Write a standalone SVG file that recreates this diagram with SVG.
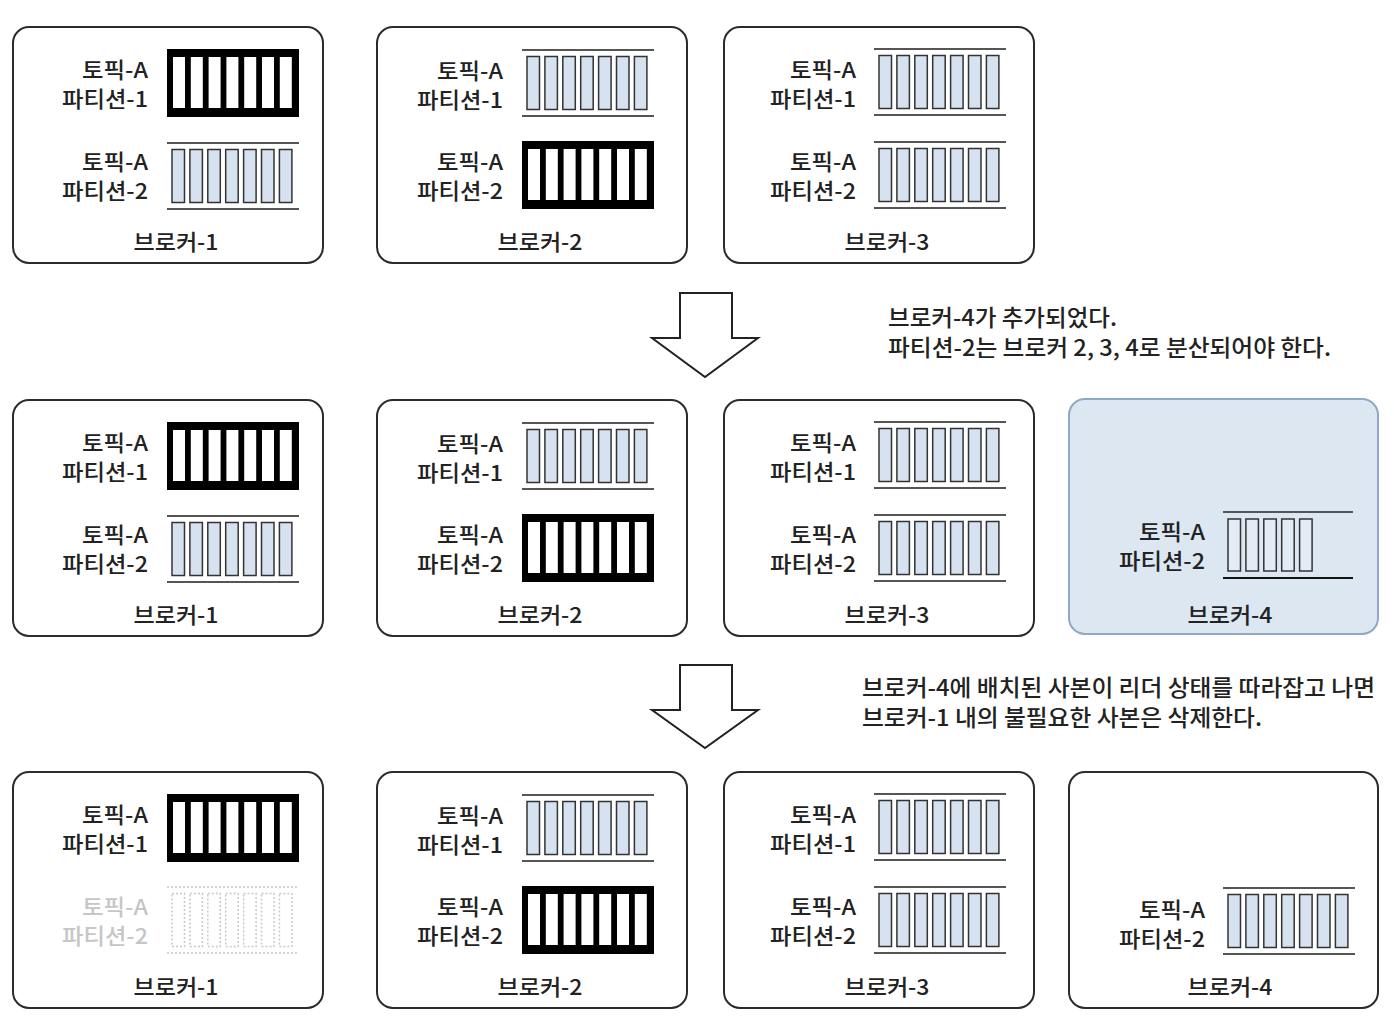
<svg xmlns="http://www.w3.org/2000/svg" xmlns:xlink="http://www.w3.org/1999/xlink" width="1394" height="1030" viewBox="0 0 1394 1030">
<style>
.box{fill:#fff;stroke:#2b2b2b;stroke-width:2}
.box4{fill:#dde7f2;stroke:#8fa8c6;stroke-width:2}
.t{font-family:"Noto Sans CJK KR","Noto Sans",sans-serif;font-size:22px;font-weight:500;fill:#222}
.lbl{text-anchor:end}
.cap{text-anchor:middle}
.note{font-family:"Noto Sans CJK KR","Noto Sans",sans-serif;font-size:22.5px;font-weight:500;fill:#222}
.ghost{fill:#c6c6c6}
.rail{stroke:#555;stroke-width:2}
.slot{fill:#d6e2f0;stroke:#333;stroke-width:1.5}
.slot6{fill:#e3ebf4;stroke:#333;stroke-width:1.5}
.dot{fill:none;stroke:#c8c8c8;stroke-width:1.5;stroke-dasharray:2 2}
.arrow{fill:#fff;stroke:#222;stroke-width:2;stroke-linejoin:miter}
</style>
<defs>
<g id="leader">
<rect x="0" y="0" width="132" height="68" fill="#000"/>
<rect x="6" y="8" width="12" height="51" fill="#fff"/>
<rect x="23.8" y="8" width="12" height="51" fill="#fff"/>
<rect x="41.6" y="8" width="12" height="51" fill="#fff"/>
<rect x="59.4" y="8" width="12" height="51" fill="#fff"/>
<rect x="77.2" y="8" width="12" height="51" fill="#fff"/>
<rect x="95" y="8" width="12" height="51" fill="#fff"/>
<rect x="112.8" y="8" width="12" height="51" fill="#fff"/>
</g>
<g id="follower">
<line class="rail" x1="0" y1="0" x2="132" y2="0"/>
<line class="rail" x1="0" y1="66" x2="132" y2="66"/>
<rect class="slot" x="5" y="6.5" width="12.5" height="53"/>
<rect class="slot" x="22.9" y="6.5" width="12.5" height="53"/>
<rect class="slot" x="40.8" y="6.5" width="12.5" height="53"/>
<rect class="slot" x="58.7" y="6.5" width="12.5" height="53"/>
<rect class="slot" x="76.6" y="6.5" width="12.5" height="53"/>
<rect class="slot" x="94.5" y="6.5" width="12.5" height="53"/>
<rect class="slot" x="112.4" y="6.5" width="12.5" height="53"/>
</g>
<g id="partial">
<line class="rail" x1="0" y1="0" x2="130" y2="0"/>
<line x1="0" y1="66" x2="130" y2="66" stroke="#111" stroke-width="2"/>
<rect class="slot6" x="5" y="7" width="12.5" height="52"/>
<rect class="slot6" x="22.9" y="7" width="12.5" height="52"/>
<rect class="slot6" x="40.8" y="7" width="12.5" height="52"/>
<rect class="slot6" x="58.7" y="7" width="12.5" height="52"/>
<rect class="slot6" x="76.6" y="7" width="12.5" height="52"/>
</g>
<g id="deleted">
<line class="dot" x1="0" y1="0" x2="132" y2="0"/>
<line class="dot" x1="0" y1="66" x2="132" y2="66"/>
<rect class="dot" x="5" y="6.5" width="12.5" height="53"/>
<rect class="dot" x="22.9" y="6.5" width="12.5" height="53"/>
<rect class="dot" x="40.8" y="6.5" width="12.5" height="53"/>
<rect class="dot" x="58.7" y="6.5" width="12.5" height="53"/>
<rect class="dot" x="76.6" y="6.5" width="12.5" height="53"/>
<rect class="dot" x="94.5" y="6.5" width="12.5" height="53"/>
<rect class="dot" x="112.4" y="6.5" width="12.5" height="53"/>
</g>
</defs>

<!-- Row 1 -->
<g id="r1-broker1" transform="translate(13,27)">
<rect class="box" x="0" y="0" width="310" height="236" rx="16"/>
<text class="t lbl" x="135" y="51" textLength="66" lengthAdjust="spacingAndGlyphs">토픽-A</text>
<text class="t lbl" x="135" y="80" textLength="86" lengthAdjust="spacingAndGlyphs">파티션-1</text>
<use xlink:href="#leader" x="154" y="22"/>
<text class="t lbl" x="135" y="143" textLength="66" lengthAdjust="spacingAndGlyphs">토픽-A</text>
<text class="t lbl" x="135" y="172" textLength="86" lengthAdjust="spacingAndGlyphs">파티션-2</text>
<use xlink:href="#follower" x="154" y="116"/>
<text class="t cap" x="163" y="223" textLength="85" lengthAdjust="spacingAndGlyphs">브로커-1</text>
</g>
<g id="r1-broker2" transform="translate(377,27)">
<rect class="box" x="0" y="0" width="310" height="236" rx="16"/>
<text class="t lbl" x="126" y="52" textLength="66" lengthAdjust="spacingAndGlyphs">토픽-A</text>
<text class="t lbl" x="126" y="81" textLength="86" lengthAdjust="spacingAndGlyphs">파티션-1</text>
<use xlink:href="#follower" x="145" y="23"/>
<text class="t lbl" x="126" y="143" textLength="66" lengthAdjust="spacingAndGlyphs">토픽-A</text>
<text class="t lbl" x="126" y="172" textLength="86" lengthAdjust="spacingAndGlyphs">파티션-2</text>
<use xlink:href="#leader" x="145" y="114"/>
<text class="t cap" x="163" y="223" textLength="85" lengthAdjust="spacingAndGlyphs">브로커-2</text>
</g>
<g id="r1-broker3" transform="translate(724,27)">
<rect class="box" x="0" y="0" width="310" height="236" rx="16"/>
<text class="t lbl" x="132" y="51" textLength="66" lengthAdjust="spacingAndGlyphs">토픽-A</text>
<text class="t lbl" x="132" y="80" textLength="86" lengthAdjust="spacingAndGlyphs">파티션-1</text>
<use xlink:href="#follower" x="150" y="22"/>
<text class="t lbl" x="132" y="143" textLength="66" lengthAdjust="spacingAndGlyphs">토픽-A</text>
<text class="t lbl" x="132" y="172" textLength="86" lengthAdjust="spacingAndGlyphs">파티션-2</text>
<use xlink:href="#follower" x="150" y="115"/>
<text class="t cap" x="163" y="223" textLength="85" lengthAdjust="spacingAndGlyphs">브로커-3</text>
</g>

<!-- Row 2 -->
<g id="r2-broker1" transform="translate(13,400)">
<rect class="box" x="0" y="0" width="310" height="236" rx="16"/>
<text class="t lbl" x="135" y="51" textLength="66" lengthAdjust="spacingAndGlyphs">토픽-A</text>
<text class="t lbl" x="135" y="80" textLength="86" lengthAdjust="spacingAndGlyphs">파티션-1</text>
<use xlink:href="#leader" x="154" y="22"/>
<text class="t lbl" x="135" y="143" textLength="66" lengthAdjust="spacingAndGlyphs">토픽-A</text>
<text class="t lbl" x="135" y="172" textLength="86" lengthAdjust="spacingAndGlyphs">파티션-2</text>
<use xlink:href="#follower" x="154" y="116"/>
<text class="t cap" x="163" y="223" textLength="85" lengthAdjust="spacingAndGlyphs">브로커-1</text>
</g>
<g id="r2-broker2" transform="translate(377,400)">
<rect class="box" x="0" y="0" width="310" height="236" rx="16"/>
<text class="t lbl" x="126" y="52" textLength="66" lengthAdjust="spacingAndGlyphs">토픽-A</text>
<text class="t lbl" x="126" y="81" textLength="86" lengthAdjust="spacingAndGlyphs">파티션-1</text>
<use xlink:href="#follower" x="145" y="23"/>
<text class="t lbl" x="126" y="143" textLength="66" lengthAdjust="spacingAndGlyphs">토픽-A</text>
<text class="t lbl" x="126" y="172" textLength="86" lengthAdjust="spacingAndGlyphs">파티션-2</text>
<use xlink:href="#leader" x="145" y="114"/>
<text class="t cap" x="163" y="223" textLength="85" lengthAdjust="spacingAndGlyphs">브로커-2</text>
</g>
<g id="r2-broker3" transform="translate(724,400)">
<rect class="box" x="0" y="0" width="310" height="236" rx="16"/>
<text class="t lbl" x="132" y="51" textLength="66" lengthAdjust="spacingAndGlyphs">토픽-A</text>
<text class="t lbl" x="132" y="80" textLength="86" lengthAdjust="spacingAndGlyphs">파티션-1</text>
<use xlink:href="#follower" x="150" y="22"/>
<text class="t lbl" x="132" y="143" textLength="66" lengthAdjust="spacingAndGlyphs">토픽-A</text>
<text class="t lbl" x="132" y="172" textLength="86" lengthAdjust="spacingAndGlyphs">파티션-2</text>
<use xlink:href="#follower" x="150" y="115"/>
<text class="t cap" x="163" y="223" textLength="85" lengthAdjust="spacingAndGlyphs">브로커-3</text>
</g>
<g id="r2-broker4" transform="translate(1069,399)">
<rect class="box4" x="0" y="0" width="309" height="235" rx="16"/>
<text class="t lbl" x="136" y="141" textLength="66" lengthAdjust="spacingAndGlyphs">토픽-A</text>
<text class="t lbl" x="136" y="170" textLength="86" lengthAdjust="spacingAndGlyphs">파티션-2</text>
<use xlink:href="#partial" x="154" y="113"/>
<text class="t cap" x="161" y="224" textLength="85" lengthAdjust="spacingAndGlyphs">브로커-4</text>
</g>

<!-- Row 3 -->
<g id="r3-broker1" transform="translate(13,772)">
<rect class="box" x="0" y="0" width="310" height="236" rx="16"/>
<text class="t lbl" x="135" y="51" textLength="66" lengthAdjust="spacingAndGlyphs">토픽-A</text>
<text class="t lbl" x="135" y="80" textLength="86" lengthAdjust="spacingAndGlyphs">파티션-1</text>
<use xlink:href="#leader" x="154" y="22"/>
<text class="t lbl ghost" x="135" y="143" textLength="66" lengthAdjust="spacingAndGlyphs">토픽-A</text>
<text class="t lbl ghost" x="135" y="172" textLength="86" lengthAdjust="spacingAndGlyphs">파티션-2</text>
<use xlink:href="#deleted" x="154" y="115"/>
<text class="t cap" x="163" y="223" textLength="85" lengthAdjust="spacingAndGlyphs">브로커-1</text>
</g>
<g id="r3-broker2" transform="translate(377,772)">
<rect class="box" x="0" y="0" width="310" height="236" rx="16"/>
<text class="t lbl" x="126" y="52" textLength="66" lengthAdjust="spacingAndGlyphs">토픽-A</text>
<text class="t lbl" x="126" y="81" textLength="86" lengthAdjust="spacingAndGlyphs">파티션-1</text>
<use xlink:href="#follower" x="145" y="23"/>
<text class="t lbl" x="126" y="143" textLength="66" lengthAdjust="spacingAndGlyphs">토픽-A</text>
<text class="t lbl" x="126" y="172" textLength="86" lengthAdjust="spacingAndGlyphs">파티션-2</text>
<use xlink:href="#leader" x="145" y="114"/>
<text class="t cap" x="163" y="223" textLength="85" lengthAdjust="spacingAndGlyphs">브로커-2</text>
</g>
<g id="r3-broker3" transform="translate(724,772)">
<rect class="box" x="0" y="0" width="310" height="236" rx="16"/>
<text class="t lbl" x="132" y="51" textLength="66" lengthAdjust="spacingAndGlyphs">토픽-A</text>
<text class="t lbl" x="132" y="80" textLength="86" lengthAdjust="spacingAndGlyphs">파티션-1</text>
<use xlink:href="#follower" x="150" y="22"/>
<text class="t lbl" x="132" y="143" textLength="66" lengthAdjust="spacingAndGlyphs">토픽-A</text>
<text class="t lbl" x="132" y="172" textLength="86" lengthAdjust="spacingAndGlyphs">파티션-2</text>
<use xlink:href="#follower" x="150" y="115"/>
<text class="t cap" x="163" y="223" textLength="85" lengthAdjust="spacingAndGlyphs">브로커-3</text>
</g>
<g id="r3-broker4" transform="translate(1069,772)">
<rect class="box" x="0" y="0" width="309" height="236" rx="16"/>
<text class="t lbl" x="136" y="146" textLength="66" lengthAdjust="spacingAndGlyphs">토픽-A</text>
<text class="t lbl" x="136" y="175" textLength="86" lengthAdjust="spacingAndGlyphs">파티션-2</text>
<use xlink:href="#follower" x="154" y="116"/>
<text class="t cap" x="161" y="223" textLength="85" lengthAdjust="spacingAndGlyphs">브로커-4</text>
</g>

<!-- Transition arrows and notes -->
<g id="connectors">
<polygon class="arrow" points="680,293 732,293 732,338 758,338 705,377 652,338 680,338"/>
<polygon class="arrow" points="680,665 732,665 732,710 758,710 705,748 652,710 680,710"/>
</g>
<g id="note1">
<text class="note" x="888" y="326" textLength="229" lengthAdjust="spacingAndGlyphs">브로커-4가 추가되었다.</text>
<text class="note" x="888" y="356" textLength="443" lengthAdjust="spacingAndGlyphs">파티션-2는 브로커 2, 3, 4로 분산되어야 한다.</text>
</g>
<g id="note2">
<text class="note" x="862" y="696" textLength="513" lengthAdjust="spacingAndGlyphs">브로커-4에 배치된 사본이 리더 상태를 따라잡고 나면</text>
<text class="note" x="862" y="726" textLength="400" lengthAdjust="spacingAndGlyphs">브로커-1 내의 불필요한 사본은 삭제한다.</text>
</g>
</svg>
